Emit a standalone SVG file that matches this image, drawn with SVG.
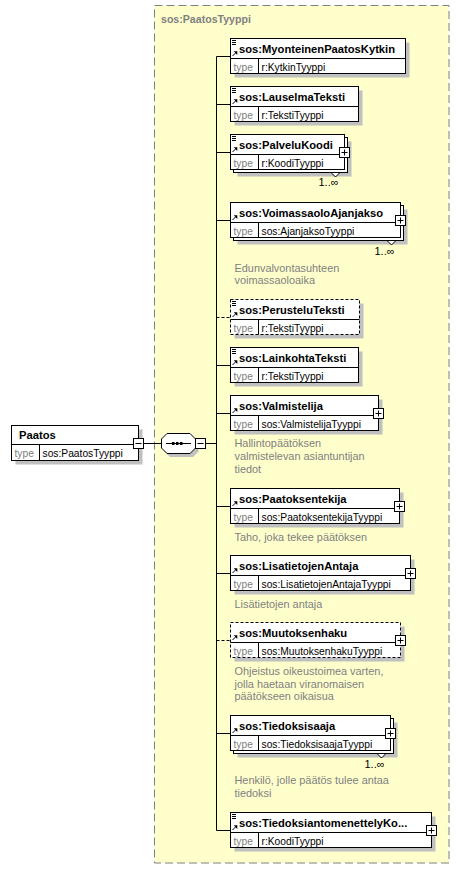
<svg xmlns="http://www.w3.org/2000/svg" width="460" height="869" viewBox="0 0 460 869">
<style>
.bg{fill:#FFFFFF}
.cplx{fill:#FFFFCC;stroke:#808080;stroke-width:1;stroke-dasharray:8,4}
.box{fill:#FFFFFF;stroke:#000000;stroke-width:1}
.opt{stroke-dasharray:3,2}
.sh{fill:#C0C0C0}
.ln{stroke:#000000;stroke-width:1;fill:none}
.dl{stroke-dasharray:3,2}
.ttl{font-family:"Liberation Sans",Arial,sans-serif;font-weight:bold;font-size:11.2px;fill:#000000}
.ctl{font-family:"Liberation Sans",Arial,sans-serif;font-weight:bold;font-size:10.6px;fill:#808080}
.typ{font-family:"Liberation Sans",Arial,sans-serif;font-size:10.25px;fill:#808080}
.val{font-family:"Liberation Sans",Arial,sans-serif;font-size:10.25px;fill:#000000}
.ann{font-family:"Liberation Sans",Arial,sans-serif;font-size:10.9px;fill:#808080}
.mul{font-family:"Liberation Sans",Arial,sans-serif;font-size:11px;fill:#000000}
.chev{fill:#FFFFFF;stroke:#000000;stroke-width:1}
</style>
<defs>
<g id="simple"><path class="ln" d="M1.5,2 H5.5 M1.5,4 H5.5 M1.5,6 H5.5"/></g>
<g id="ref"><path class="ln" d="M2,17.5 L5,14.5"/><path d="M3.2,12.8 L6.8,12.8 L6.8,16.4 Z" fill="#000000"/></g>
<g id="plus"><rect class="box" x="-5" y="-5" width="10" height="10"/><path class="ln" d="M-3,0 H3 M0,-3 V3"/></g>
<g id="minus"><rect class="box" x="-5" y="-5" width="10" height="10"/><path class="ln" d="M-3,0 H3"/></g>
</defs>
<rect class="bg" x="0" y="0" width="460" height="869"/>

<g id="PaatosTyyppi">
<rect class="cplx" x="154.5" y="5.5" width="294.5" height="857.5"/>
<text class="ctl" x="161" y="23">sos:PaatosTyyppi</text>
</g>

<g id="connectors">
<path class="ln" d="M143.5,443.5 H161.5"/>
<path class="ln" d="M205.5,443.5 H216.5"/>
<path class="ln" d="M216.5,56.5 V830.5"/>
<path class="ln" d="M216.5,56.5 H230.5"/>
<path class="ln" d="M216.5,104.5 H230.5"/>
<path class="ln" d="M216.5,152.5 H230.5"/>
<path class="ln" d="M216.5,220.5 H230.5"/>
<path class="ln dl" d="M216.5,317.5 H230.5"/>
<path class="ln" d="M216.5,365.5 H230.5"/>
<path class="ln" d="M216.5,413.5 H230.5"/>
<path class="ln" d="M216.5,506.5 H230.5"/>
<path class="ln" d="M216.5,573.5 H230.5"/>
<path class="ln dl" d="M216.5,640.5 H230.5"/>
<path class="ln" d="M216.5,733.5 H230.5"/>
<path class="ln" d="M216.5,830.5 H230.5"/>
</g>

<g id="Paatos" transform="translate(11.5,425.5)">
<rect class="sh" x="4" y="4" width="127" height="35"/>
<rect class="box" x="0" y="0" width="127" height="35"/>
<path class="ln" d="M0,19 H127 M28,19 V35"/>
<text class="ttl" x="7.5" y="13">Paatos</text>
<text class="typ" x="3" y="31">type</text>
<text class="val" x="31" y="31">sos:PaatosTyyppi</text>
<use href="#minus" x="127" y="18"/>
</g>

<g id="sequence">
<polygon class="sh" points="170,439 193,439 198.5,444.5 198.5,451.5 193,457 170,457 164.5,451.5 164.5,444.5"/>
<polygon class="box" points="167,433.5 190,433.5 195.5,439 195.5,448 190,453.5 167,453.5 161.5,448 161.5,439"/>
<path class="ln" d="M166,443.5 H191"/>
<rect x="172" y="442" width="2.5" height="3" fill="#000000"/>
<rect x="176" y="442" width="2.5" height="3" fill="#000000"/>
<rect x="180" y="442" width="2.5" height="3" fill="#000000"/>
<use href="#minus" x="200.5" y="443.5"/>
</g>

<g id="MyonteinenPaatosKytkin" transform="translate(230.5,38.5)">
<rect class="sh" x="4" y="4" width="175" height="35"/>
<rect class="box" x="0" y="0" width="175" height="35"/>
<path class="ln" d="M0,20 H175 M28,20 V35"/>
<use href="#simple"/><use href="#ref"/>
<text class="ttl" x="8.5" y="14">sos:MyonteinenPaatosKytkin</text>
<text class="typ" x="3" y="32">type</text>
<text class="val" x="31" y="32">r:KytkinTyyppi</text>
</g>

<g id="LauselmaTeksti" transform="translate(230.5,86.5)">
<rect class="sh" x="4" y="4" width="128" height="35"/>
<rect class="box" x="0" y="0" width="128" height="35"/>
<path class="ln" d="M0,20 H128 M28,20 V35"/>
<use href="#simple"/><use href="#ref"/>
<text class="ttl" x="8.5" y="14">sos:LauselmaTeksti</text>
<text class="typ" x="3" y="32">type</text>
<text class="val" x="31" y="32">r:TekstiTyyppi</text>
</g>

<g id="PalveluKoodi" transform="translate(230.5,134.5)">
<rect class="sh" x="7" y="7" width="114" height="35"/>
<rect class="box" x="3" y="3" width="114" height="35"/>
<rect class="box" x="0" y="0" width="114" height="35"/>
<path class="ln" d="M0,20 H114 M28,20 V35"/>
<use href="#simple"/><use href="#ref"/>
<text class="ttl" x="8.5" y="14">sos:PalveluKoodi</text>
<text class="typ" x="3" y="32">type</text>
<text class="val" x="31" y="32">r:KoodiTyyppi</text>
<use href="#plus" x="114" y="18"/>
<polygon class="chev" points="100.5,38 109.5,38 105,42.5"/>
<text class="mul" x="88" y="51">1..∞</text>
</g>

<g id="VoimassaoloAjanjakso" transform="translate(230.5,202.5)">
<rect class="sh" x="7" y="7" width="170" height="35"/>
<rect class="box" x="3" y="3" width="170" height="35"/>
<rect class="box" x="0" y="0" width="170" height="35"/>
<path class="ln" d="M0,20 H170 M28,20 V35"/>
<use href="#ref"/>
<text class="ttl" x="8.5" y="14">sos:VoimassaoloAjanjakso</text>
<text class="typ" x="3" y="32">type</text>
<text class="val" x="31" y="32">sos:AjanjaksoTyyppi</text>
<use href="#plus" x="170" y="18"/>
<polygon class="chev" points="156.5,38 165.5,38 161,42.5"/>
<text class="mul" x="144" y="52">1..∞</text>
<text class="ann" x="4" y="69.2">Edunvalvontasuhteen</text>
<text class="ann" x="4" y="81.8">voimassaoloaika</text>
</g>

<g id="PerusteluTeksti" transform="translate(230.5,299.5)">
<rect class="sh" x="4" y="4" width="129" height="35"/>
<rect class="box opt" x="0" y="0" width="129" height="35"/>
<path class="ln" d="M0,20 H129 M28,20 V35"/>
<use href="#simple"/><use href="#ref"/>
<text class="ttl" x="8.5" y="14">sos:PerusteluTeksti</text>
<text class="typ" x="3" y="32">type</text>
<text class="val" x="31" y="32">r:TekstiTyyppi</text>
</g>

<g id="LainkohtaTeksti" transform="translate(230.5,347.5)">
<rect class="sh" x="4" y="4" width="128" height="35"/>
<rect class="box" x="0" y="0" width="128" height="35"/>
<path class="ln" d="M0,20 H128 M28,20 V35"/>
<use href="#simple"/><use href="#ref"/>
<text class="ttl" x="8.5" y="14">sos:LainkohtaTeksti</text>
<text class="typ" x="3" y="32">type</text>
<text class="val" x="31" y="32">r:TekstiTyyppi</text>
</g>

<g id="Valmistelija" transform="translate(230.5,395.5)">
<rect class="sh" x="4" y="4" width="148" height="35"/>
<rect class="box" x="0" y="0" width="148" height="35"/>
<path class="ln" d="M0,20 H148 M28,20 V35"/>
<use href="#ref"/>
<text class="ttl" x="8.5" y="14">sos:Valmistelija</text>
<text class="typ" x="3" y="32">type</text>
<text class="val" x="31" y="32">sos:ValmistelijaTyyppi</text>
<use href="#plus" x="148" y="18"/>
<text class="ann" x="4" y="51.8">Hallintopäätöksen</text>
<text class="ann" x="4" y="64.4">valmistelevan asiantuntijan</text>
<text class="ann" x="4" y="77">tiedot</text>
</g>

<g id="Paatoksentekija" transform="translate(230.5,488.5)">
<rect class="sh" x="4" y="4" width="169" height="35"/>
<rect class="box" x="0" y="0" width="169" height="35"/>
<path class="ln" d="M0,20 H169 M28,20 V35"/>
<use href="#ref"/>
<text class="ttl" x="8.5" y="14">sos:Paatoksentekija</text>
<text class="typ" x="3" y="32">type</text>
<text class="val" x="31" y="32">sos:PaatoksentekijaTyyppi</text>
<use href="#plus" x="169" y="18"/>
<text class="ann" x="4" y="52.2">Taho, joka tekee päätöksen</text>
</g>

<g id="LisatietojenAntaja" transform="translate(230.5,555.5)">
<rect class="sh" x="4" y="4" width="180" height="35"/>
<rect class="box" x="0" y="0" width="180" height="35"/>
<path class="ln" d="M0,20 H180 M28,20 V35"/>
<use href="#ref"/>
<text class="ttl" x="8.5" y="14">sos:LisatietojenAntaja</text>
<text class="typ" x="3" y="32">type</text>
<text class="val" x="31" y="32">sos:LisatietojenAntajaTyyppi</text>
<use href="#plus" x="180" y="18"/>
<text class="ann" x="4" y="52.2">Lisätietojen antaja</text>
</g>

<g id="Muutoksenhaku" transform="translate(230.5,622.5)">
<rect class="sh" x="4" y="4" width="170" height="35"/>
<rect class="box opt" x="0" y="0" width="170" height="35"/>
<path class="ln" d="M0,20 H170 M28,20 V35"/>
<use href="#ref"/>
<text class="ttl" x="8.5" y="14">sos:Muutoksenhaku</text>
<text class="typ" x="3" y="32">type</text>
<text class="val" x="31" y="32">sos:MuutoksenhakuTyyppi</text>
<use href="#plus" x="170" y="18"/>
<text class="ann" x="4" y="52.5">Ohjeistus oikeustoimea varten,</text>
<text class="ann" x="4" y="65.1">jolla haetaan viranomaisen</text>
<text class="ann" x="4" y="77.7">päätökseen oikaisua</text>
</g>

<g id="Tiedoksisaaja" transform="translate(230.5,715.5)">
<rect class="sh" x="7" y="7" width="160" height="35"/>
<rect class="box" x="3" y="3" width="160" height="35"/>
<rect class="box" x="0" y="0" width="160" height="35"/>
<path class="ln" d="M0,20 H160 M28,20 V35"/>
<use href="#ref"/>
<text class="ttl" x="8.5" y="14">sos:Tiedoksisaaja</text>
<text class="typ" x="3" y="32">type</text>
<text class="val" x="31" y="32">sos:TiedoksisaajaTyyppi</text>
<use href="#plus" x="160" y="18"/>
<polygon class="chev" points="146.5,38 155.5,38 151,42.5"/>
<text class="mul" x="134" y="52">1..∞</text>
<text class="ann" x="4" y="68.5">Henkilö, jolle päätös tulee antaa</text>
<text class="ann" x="4" y="81.1">tiedoksi</text>
</g>

<g id="TiedoksiantomenettelyKoodi" transform="translate(230.5,812.5)">
<rect class="sh" x="4" y="4" width="201" height="35"/>
<rect class="box" x="0" y="0" width="201" height="35"/>
<path class="ln" d="M0,20 H201 M28,20 V35"/>
<use href="#simple"/><use href="#ref"/>
<text class="ttl" x="8.5" y="14">sos:TiedoksiantomenettelyKo...</text>
<text class="typ" x="3" y="32">type</text>
<text class="val" x="31" y="32">r:KoodiTyyppi</text>
<use href="#plus" x="201" y="18"/>
</g>
</svg>
